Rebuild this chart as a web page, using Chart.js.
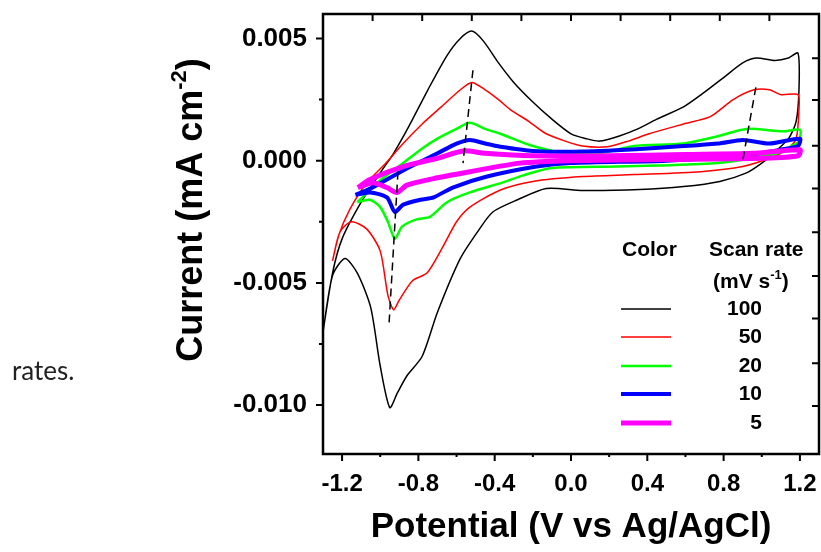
<!DOCTYPE html>
<html>
<head>
<meta charset="utf-8">
<script src="https://cdn.jsdelivr.net/npm/chart.js@4/dist/chart.umd.min.js"></script>
<style>
  body { margin: 0; background: #fff; }
  #wrap { position: relative; width: 821px; height: 552px; }
  #side { position: absolute; left: 12px; top: 357px; font: 26px Lato, "Open Sans", sans-serif; color: #222; line-height: 1; }
  canvas { position: absolute; left: 0; top: 0; }
</style>
</head>
<body>
<div id="wrap">
  <canvas id="cv" width="821" height="552"></canvas>
  <div id="side">rates.</div>
</div>
<script>
// scan rates (mV/s) and colours
var rates = ['100', '50', '20', '10', '5']
var colors = ['#000000', '#ff0000', '#00ff00', '#0000ff', '#ff00ff']
var widths = [1.5, 1.5, 2.5, 4, 5]

// potential (V vs Ag/AgCl) and current (mA cm-2), forward then reverse sweep
var v100 = [-1.30, -1.25, -1.20, -1.10, -1.00, -0.93, -0.85, -0.75, -0.65, -0.58, -0.52, -0.46, -0.38, -0.30, -0.20, -0.10, 0.00, 0.08, 0.15, 0.25, 0.35, 0.45, 0.59, 0.70, 0.80, 0.90, 0.97, 1.07, 1.14, 1.19,
            1.195, 1.18, 1.14, 1.06, 1.00, 0.92, 0.78, 0.59, 0.36, 0.06, -0.13, -0.28, -0.41, -0.48, -0.58, -0.70, -0.78, -0.86, -0.91, -0.95, -1.00, -1.05, -1.12, -1.185, -1.25, -1.30]
var i100 = [-0.0070, -0.0046, -0.0032, -0.0017, -0.0005, 0.0003, 0.0014, 0.0029, 0.0043, 0.0050, 0.0053, 0.0049, 0.0040, 0.0032, 0.0024, 0.0017, 0.0011, 0.0009, 0.0008, 0.0010, 0.0013, 0.0017, 0.0022, 0.0028, 0.0034, 0.0040, 0.0042, 0.0041, 0.0042, 0.0044,
            0.0029, 0.0016, 0.0009, 0.0003, -0.0001, -0.0005, -0.00085, -0.00106, -0.00118, -0.00122, -0.00114, -0.0016, -0.0021, -0.0028, -0.0040, -0.0062, -0.0080, -0.0088, -0.0095, -0.0101, -0.0084, -0.0060, -0.0046, -0.0040, -0.0047, -0.0070]

var v50 = [-1.25, -1.22, -1.16, -1.07, -0.97, -0.88, -0.78, -0.68, -0.58, -0.52, -0.45, -0.38, -0.32, -0.22, -0.13, -0.03, 0.06, 0.19, 0.30, 0.41, 0.59, 0.73, 0.85, 0.96, 1.04, 1.10, 1.19,
           1.195, 1.18, 1.13, 1.06, 0.90, 0.68, 0.33, 0.06, -0.20, -0.37, -0.53, -0.60, -0.67, -0.755, -0.83, -0.90, -0.93, -0.96, -1.00, -1.07, -1.15, -1.21, -1.25]
var i50 = [-0.0041, -0.0031, -0.0020, -0.0009, -0.0001, 0.0007, 0.0015, 0.0022, 0.0029, 0.0032, 0.0029, 0.0025, 0.0021, 0.0016, 0.0011, 0.0008, 0.0006, 0.00057, 0.0008, 0.0011, 0.0015, 0.0018, 0.0025, 0.0029, 0.0029, 0.0027, 0.0027,
           0.0021, 0.0009, 0.00045, 0.00016, -0.00024, -0.00045, -0.00057, -0.00065, -0.00085, -0.0012, -0.0019, -0.0025, -0.0035, -0.0046, -0.0049, -0.0057, -0.0061, -0.0055, -0.0037, -0.0028, -0.0025, -0.0029, -0.0041]

var v20 = [-1.12, -1.08, -1.00, -0.88, -0.78, -0.70, -0.60, -0.53, -0.45, -0.37, -0.20, -0.02, 0.15, 0.33, 0.59, 0.77, 0.92, 1.11, 1.20,
           1.195, 1.15, 1.08, 0.77, 0.45, 0.24, -0.10, -0.25, -0.36, -0.53, -0.65, -0.74, -0.81, -0.886, -0.923, -0.96, -1.00, -1.054, -1.12]
var i20 = [-0.0017, -0.0014, -0.0008, -0.0001, 0.0005, 0.0009, 0.0013, 0.00155, 0.0013, 0.0011, 0.0006, 0.0003, 0.0003, 0.0006, 0.0007, 0.0010, 0.0013, 0.0012, 0.00126,
           0.0008, 0.00057, 0.0003, -0.0001, -0.0002, -0.00024, -0.0003, -0.0006, -0.0009, -0.0013, -0.0017, -0.0023, -0.0024, -0.0027, -0.0032, -0.0025, -0.0019, -0.0016, -0.0017]

var v10 = [-1.13, -1.04, -0.88, -0.70, -0.60, -0.53, -0.45, -0.37, -0.20, 0.06, 0.40, 0.77, 0.90, 1.04, 1.20,
           1.19, 1.10, 0.90, 0.50, 0.00, -0.18, -0.44, -0.62, -0.72, -0.79, -0.88, -0.923, -0.965, -1.054, -1.13]
var i10 = [-0.0014, -0.0011, -0.0004, 0.0003, 0.0007, 0.00085, 0.0007, 0.00057, 0.0004, 0.00037, 0.0005, 0.0007, 0.00085, 0.0007, 0.0009,
           0.0006, 0.00045, 0.0002, 0.0000, -0.0001, -0.00024, -0.00065, -0.0011, -0.0015, -0.0016, -0.0018, -0.0021, -0.0015, -0.0013, -0.0014]

var v5 = [-1.117, -1.054, -0.88, -0.70, -0.566, -0.45, -0.20, 0.20, 0.60, 0.95, 1.20,
          1.19, 1.00, 0.50, 0.00, -0.268, -0.53, -0.70, -0.86, -0.912, -0.965, -1.038, -1.117]
var i5 = [-0.0011, -0.00077, -0.00024, 0.0001, 0.0004, 0.0003, 0.0002, 0.0002, 0.00025, 0.0003, 0.00045,
          0.0002, 0.0001, 0.00005, 0.0, -0.0001, -0.00045, -0.0007, -0.0010, -0.0013, -0.0011, -0.0009, -0.0011]

// dashed guide lines through the peaks
var peakV = [[-0.907, -0.954], [-0.514, -0.566], [0.969, 0.901]]
var peakI = [[-0.00045, -0.0067], [0.0037, -0.0001], [0.0030, 0.00004]]

// axis ticks
var xTicks = [-1.2, -0.8, -0.4, 0.0, 0.4, 0.8, 1.2]
var xMinor = [-1.0, -0.6, -0.2, 0.2, 0.6, 1.0]
var yTicks = [-0.010, -0.005, 0.000, 0.005]
var yMinor = [-0.0075, -0.0025, 0.0025]
var topTicks = [-1.04, -0.78, -0.52, -0.26, 0, 0.26, 0.52, 0.78, 1.04]
var rightTicks = [0.00419, 0.00248, 0.00061, -0.00114, -0.00293, -0.00472, -0.00646, -0.00829, -0.01004]

function pts(vs, is) {
    return vs.map(function (v, k) { return {x: v, y: is[k]} })
}

var curves = [[v100, i100], [v50, i50], [v20, i20], [v10, i10], [v5, i5]]
var datasets = []
curves.forEach(function (c, k) {
    datasets.push({
        label: rates[k],
        data: pts(c[0], c[1]),
        borderColor: colors[k],
        borderWidth: widths[k],
        order: 10 - k,
        tension: 0.25
    })
})
peakV.forEach(function (v, k) {
    datasets.push({
        label: 'peak' + k,
        data: pts(v, peakI[k]),
        borderColor: '#000',
        borderWidth: 1.5,
        borderDash: [8, 5],
        order: 0,
        tension: 0
    })
})

// draws a run of text pieces, some raised as superscript: [text, isSup, size, raise]
function drawSup(ctx, parts, x, y, align) {
    var total = 0
    parts.forEach(function (p) {
        ctx.font = 'bold ' + p[2] + 'px "Liberation Sans", Arial'
        p.w = ctx.measureText(p[0]).width
        total += p.w
    })
    var cx = align === 'center' ? x - total / 2 : x
    parts.forEach(function (p) {
        ctx.font = 'bold ' + p[2] + 'px "Liberation Sans", Arial'
        ctx.fillText(p[0], cx, p[1] ? y - p[3] : y)
        cx += p.w
    })
}

var framePlugin = {
    id: 'frame',
    afterDraw: function (chart) {
        var ctx = chart.ctx, a = chart.chartArea
        var xs = chart.scales.x, ys = chart.scales.y
        ctx.save()
        ctx.strokeStyle = '#000'
        ctx.lineWidth = 2.5
        ctx.strokeRect(a.left, a.top, a.right - a.left, a.bottom - a.top)
        ctx.lineWidth = 2
        ctx.beginPath()
        xTicks.forEach(function (v) { var p = xs.getPixelForValue(v); ctx.moveTo(p, a.bottom); ctx.lineTo(p, a.bottom + 7) })
        xMinor.forEach(function (v) { var p = xs.getPixelForValue(v); ctx.moveTo(p, a.bottom); ctx.lineTo(p, a.bottom + 3) })
        yTicks.forEach(function (v) { var p = ys.getPixelForValue(v); ctx.moveTo(a.left, p); ctx.lineTo(a.left - 7, p) })
        yMinor.forEach(function (v) { var p = ys.getPixelForValue(v); ctx.moveTo(a.left, p); ctx.lineTo(a.left - 4, p) })
        topTicks.forEach(function (v) { var p = xs.getPixelForValue(v); ctx.moveTo(p, a.top); ctx.lineTo(p, a.top + 7) })
        rightTicks.forEach(function (v) { var p = ys.getPixelForValue(v); ctx.moveTo(a.right, p); ctx.lineTo(a.right - 7, p) })
        ctx.stroke()

        ctx.fillStyle = '#000'
        ctx.textBaseline = 'middle'
        ctx.textAlign = 'left'
        // x title
        drawSup(ctx, [['Potential (V vs Ag/AgCl)', false, 35]], (a.left + a.right) / 2, 527, 'center')
        // y title, rotated
        ctx.save()
        ctx.translate(192, 210)
        ctx.rotate(-Math.PI / 2)
        drawSup(ctx, [['Current (mA cm', false, 36], ['-2', true, 22, 12], [')', false, 36]], 0, 0, 'center')
        ctx.restore()

        // legend table
        drawSup(ctx, [['Color', false, 21]], 622, 250, 'left')
        drawSup(ctx, [['Scan rate', false, 21]], 709, 250, 'left')
        drawSup(ctx, [['(mV s', false, 21], ['-1', true, 13, 7], [')', false, 21]], 713, 282, 'left')
        var rowY = [309, 337, 366, 394, 423]
        rates.forEach(function (r, k) {
            ctx.strokeStyle = colors[k]
            ctx.lineWidth = widths[k]
            ctx.beginPath()
            ctx.moveTo(621, rowY[k])
            ctx.lineTo(671, rowY[k])
            ctx.stroke()
            ctx.font = 'bold 21px "Liberation Sans", Arial'
            ctx.textAlign = 'right'
            ctx.fillText(r, 762, rowY[k])
            ctx.textAlign = 'left'
        })
        ctx.restore()
    }
}

new Chart('cv', {
    type: 'scatter',
    data: { datasets: datasets },
    options: {
        responsive: false,
        animation: false,
        layout: { padding: { top: 14, right: 2, left: 0, bottom: 0 } },
        elements: { point: { radius: 0 } },
        showLine: true,
        plugins: { legend: { display: false }, tooltip: { enabled: false } },
        scales: {
            x: {
                min: -1.3, max: 1.3,
                grid: { display: false, drawTicks: false },
                border: { display: false },
                afterBuildTicks: function (s) { s.ticks = xTicks.map(function (v) { return {value: v} }) },
                afterFit: function (s) { s.height = 98; s.paddingLeft = 0; s.paddingRight = 0 },
                ticks: {
                    padding: 16, color: '#000', maxRotation: 0,
                    font: { family: '"Liberation Sans", Arial', weight: 'bold', size: 24 },
                    callback: function (v) { return v.toFixed(1) }
                }
            },
            y: {
                min: -0.012, max: 0.006,
                grid: { display: false, drawTicks: false },
                border: { display: false },
                afterBuildTicks: function (s) { s.ticks = yTicks.map(function (v) { return {value: v} }) },
                afterFit: function (s) { s.width = 323; s.paddingTop = 0; s.paddingBottom = 0 },
                ticks: {
                    padding: 16, color: '#000',
                    font: { family: '"Liberation Sans", Arial', weight: 'bold', size: 26 },
                    callback: function (v) { return v.toFixed(3) }
                }
            }
        }
    },
    plugins: [framePlugin]
})
</script>
</body>
</html>
